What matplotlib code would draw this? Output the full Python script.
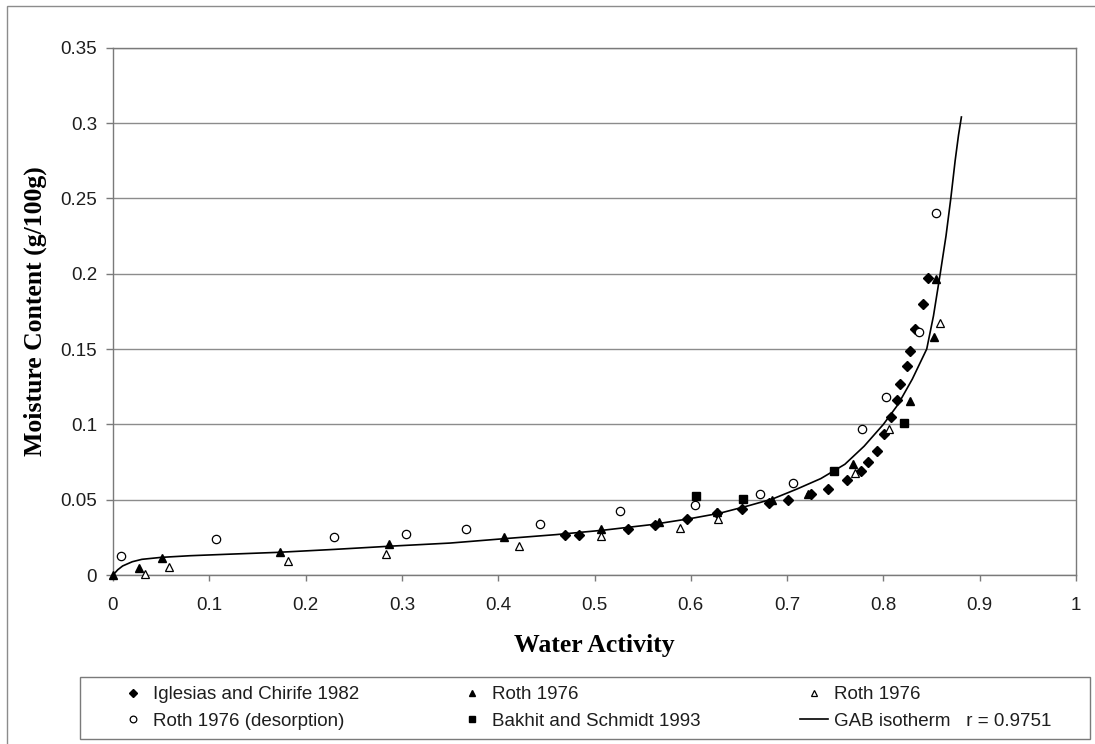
import numpy as np
import matplotlib
matplotlib.use("Agg")
import matplotlib.pyplot as plt
from matplotlib.patches import Rectangle

plt.rcParams['font.family'] = ['Liberation Sans', 'DejaVu Sans']

# Iglesias and Chirife 1982
iglesias_aw = [0.469, 0.484, 0.535, 0.563, 0.596, 0.627, 0.653, 0.681, 0.701, 0.725,
               0.742, 0.762, 0.777, 0.784, 0.793, 0.801, 0.808, 0.814, 0.817, 0.824,
               0.828, 0.833, 0.841, 0.846]
iglesias_m = [0.0264, 0.0264, 0.0308, 0.0330, 0.0370, 0.0410, 0.0440, 0.0480, 0.0496, 0.0535,
              0.0570, 0.0630, 0.0690, 0.0748, 0.0820, 0.0936, 0.1050, 0.1160, 0.1270, 0.1390,
              0.1490, 0.1630, 0.1800, 0.1970]

# Roth 1976 (filled triangles)
roth_a_aw = [0.0, 0.027, 0.051, 0.173, 0.287, 0.406, 0.507, 0.567, 0.627, 0.684,
             0.722, 0.768, 0.828, 0.853, 0.855]
roth_a_m = [0.0, 0.0044, 0.0110, 0.0150, 0.0205, 0.0249, 0.0308, 0.0352, 0.0420, 0.0496,
            0.0535, 0.0740, 0.1157, 0.1580, 0.1965]

# Roth 1976 (open triangles)
roth_b_aw = [0.033, 0.058, 0.182, 0.284, 0.422, 0.507, 0.589, 0.628, 0.770, 0.806, 0.859]
roth_b_m = [0.0004, 0.0050, 0.0095, 0.0139, 0.0194, 0.0258, 0.0313, 0.0374, 0.0675, 0.0967, 0.1675]

# Roth 1976 (desorption)
desorp_aw = [0.0086, 0.107, 0.230, 0.304, 0.367, 0.443, 0.526, 0.604, 0.672, 0.706,
             0.778, 0.803, 0.837, 0.855]
desorp_m = [0.0126, 0.0242, 0.0253, 0.0275, 0.0306, 0.0341, 0.0425, 0.0467, 0.0540, 0.0612,
            0.0967, 0.1180, 0.1610, 0.2400]

# Bakhit and Schmidt 1993
bakhit_aw = [0.605, 0.654, 0.749, 0.821]
bakhit_m = [0.0525, 0.0505, 0.0690, 0.1010]

# GAB isotherm curve
gab_aw = [0.0, 0.005, 0.01, 0.02, 0.03, 0.05, 0.08, 0.12, 0.17, 0.23, 0.29, 0.35,
          0.41, 0.46, 0.51, 0.56, 0.60, 0.63, 0.66, 0.685, 0.71, 0.735, 0.76, 0.78,
          0.80, 0.815, 0.83, 0.845, 0.852, 0.859, 0.865, 0.870, 0.8745, 0.878, 0.881]
gab_m = [0.0, 0.0035, 0.0060, 0.0088, 0.0104, 0.0117, 0.0128, 0.0138, 0.0150, 0.0170, 0.0192, 0.0212,
         0.0243, 0.0268, 0.0298, 0.0335, 0.0375, 0.0410, 0.0460, 0.0505, 0.0570, 0.0640, 0.0735, 0.0855,
         0.1000, 0.1130, 0.1300, 0.1500, 0.1720, 0.2000, 0.2250, 0.2500, 0.2750, 0.2920, 0.3040]

x_ticks = [0, 0.1, 0.2, 0.3, 0.4, 0.5, 0.6, 0.7, 0.8, 0.9, 1.0]
x_tick_labels = ['0', '0.1', '0.2', '0.3', '0.4', '0.5', '0.6', '0.7', '0.8', '0.9', '1']
y_ticks = [0, 0.05, 0.1, 0.15, 0.2, 0.25, 0.3, 0.35]
y_tick_labels = ['0', '0.05', '0.1', '0.15', '0.2', '0.25', '0.3', '0.35']

W, H = 1095, 744
fig = plt.figure(figsize=(W / 100, H / 100), dpi=100)
ax = fig.add_axes([113 / W, 1 - 575 / H, 963 / W, (575 - 47.7) / H])

axis_grey = '#7a7a7a'
text_col = '#1e1e1e'

h_ig, = ax.plot(iglesias_aw, iglesias_m, ls='none', marker='D', ms=4.6,
                mfc='black', mec='black', clip_on=False, zorder=3)
h_ra, = ax.plot(roth_a_aw, roth_a_m, ls='none', marker='^', ms=6.2,
                mfc='black', mec='black', clip_on=False, zorder=3)
h_rb, = ax.plot(roth_b_aw, roth_b_m, ls='none', marker='^', ms=6.2, mew=0.9,
                mfc='white', mec='black', clip_on=False, zorder=3)
h_de, = ax.plot(desorp_aw, desorp_m, ls='none', marker='o', ms=6, mew=0.9,
                mfc='white', mec='black', clip_on=False, zorder=3)
h_bk, = ax.plot(bakhit_aw, bakhit_m, ls='none', marker='s', ms=5.3,
                mfc='black', mec='black', clip_on=False, zorder=3)
h_gab, = ax.plot(gab_aw, gab_m, color='black', lw=1.2, zorder=4, clip_on=False)

ax.set_xlim(0, 1)
ax.set_ylim(0, 0.35)
ax.set_xticks(x_ticks)
ax.set_xticklabels(x_tick_labels)
ax.set_yticks(y_ticks)
ax.set_yticklabels(y_tick_labels)

ax.yaxis.grid(True, color='#8c8c8c', lw=1)
ax.set_axisbelow(True)
for side in ['left', 'bottom', 'right', 'top']:
    ax.spines[side].set_color(axis_grey)
    ax.spines[side].set_linewidth(1)

ax.tick_params(axis='x', direction='out', length=4, width=1, pad=12,
               labelsize=13.5, color=axis_grey, labelcolor=text_col)
ax.tick_params(axis='y', direction='out', length=5, width=1, pad=6.5,
               labelsize=13.5, color=axis_grey, labelcolor=text_col)

ax.set_xlabel('Water Activity', family='Liberation Serif', fontweight='bold',
              fontsize=18.5, color='black', va='top')
ax.xaxis.set_label_coords(0.5, (575 - 634) / 527.3)
ax.set_ylabel('Moisture Content (g/100g)', family='Liberation Serif', fontweight='bold',
              fontsize=18.5, color='black', va='center')
ax.yaxis.set_label_coords((35 - 113) / 963, 0.5)

# legend box below the plot
fig.add_artist(Rectangle((80 / W, 1 - 739 / H), 1010 / W, 62 / H, transform=fig.transFigure,
                         fill=False, edgecolor=axis_grey, lw=1))
fig.legend([h_ig, h_de, h_ra, h_bk, h_rb, h_gab],
           ['Iglesias and Chirife 1982', 'Roth 1976 (desorption)',
            'Roth 1976', 'Bakhit and Schmidt 1993',
            'Roth 1976', 'GAB isotherm   r = 0.9751'],
           ncol=3, loc='center', bbox_to_anchor=(585 / W, 1 - 708 / H),
           frameon=False, fontsize=13.5, handlelength=1.5, handletextpad=0.3,
           columnspacing=5.3, labelspacing=0.5, markerscale=0.8, labelcolor=text_col)

# outer chart border
fig.add_artist(Rectangle((7 / W, -0.05), 1.2, 1 - 6 / H + 0.05, transform=fig.transFigure,
                         fill=False, edgecolor='#8c8c8c', lw=1))

plt.savefig("out.png", dpi=100)
